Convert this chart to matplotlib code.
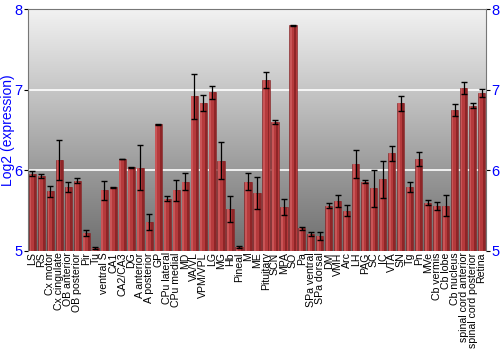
import numpy as np
import matplotlib
matplotlib.use('Agg')
import matplotlib.pyplot as plt
from matplotlib.colors import LinearSegmentedColormap

plt.rcParams['font.family'] = ['Liberation Sans', 'DejaVu Sans']

regions = ['LS', 'RS', 'Cx motor', 'Cx cingulate', 'OB anterior', 'OB posterior', 'Pir', 'Tu',
           'ventral S', 'CA1', 'CA2/CA3', 'DG', 'A anterior', 'A posterior', 'GP', 'CPu lateral',
           'CPu medial', 'MD', 'VA/VL', 'VPM/VPL', 'LG', 'MG', 'Hb', 'Pineal', 'M', 'ME',
           'Pituitary', 'SCN', 'MPA', 'SO', 'Pa', 'SPa ventral', 'SPa dorsal', 'DM', 'VMH',
           'Arc', 'LH', 'PAG', 'SC', 'IC', 'VTA', 'SN', 'Tg', 'Pn', 'MVe', 'Cb vermis',
           'Cb lobe', 'Cb nucleus', 'spinal cord anterior', 'spinal cord posterior', 'Retina']
expr = [5.96, 5.93, 5.74, 6.13, 5.79, 5.87, 5.22, 5.04,
        5.75, 5.79, 6.14, 6.04, 6.03, 5.36, 6.57, 5.65,
        5.75, 5.86, 6.92, 6.83, 6.97, 6.12, 5.52, 5.05, 5.86, 5.72,
        7.12, 6.60, 5.55, 7.80, 5.28, 5.21, 5.19, 5.56, 5.62,
        5.50, 6.08, 5.86, 5.78, 5.89, 6.21, 6.83, 5.79, 6.14, 5.60, 5.56,
        5.56, 6.75, 7.02, 6.80, 6.96]
err = [0.03, 0.03, 0.07, 0.25, 0.06, 0.03, 0.04, 0.01,
       0.12, 0.005, 0.005, 0.005, 0.28, 0.10, 0.005, 0.03,
       0.13, 0.11, 0.28, 0.10, 0.08, 0.23, 0.16, 0.01, 0.11, 0.20,
       0.10, 0.03, 0.10, 0.005, 0.02, 0.03, 0.05, 0.03, 0.08,
       0.07, 0.17, 0.02, 0.23, 0.23, 0.09, 0.09, 0.06, 0.09, 0.03, 0.05,
       0.13, 0.07, 0.07, 0.03, 0.05]

fig = plt.figure(figsize=(5, 3.5), dpi=100)
ax = fig.add_axes([0.056, 0.283, 0.916, 0.691])

x = np.arange(len(regions))
ymin, ymax = 5, 8

# grey gradient background
bg = LinearSegmentedColormap.from_list('bg', ['#6e6e6e', '#f2f2f2'])
ax.imshow(np.linspace(0, 1, 256).reshape(-1, 1), cmap=bg, origin='lower', aspect='auto',
          extent=(-0.5, len(regions) - 0.5, ymin, ymax), zorder=0)

for g in [6, 7]:
    ax.axhline(g, color='white', lw=1.2, zorder=1)

heights = np.array(expr) - ymin
ax.bar(x, heights, bottom=ymin, width=0.8, color='#b53a3c', edgecolor='#7a1d1f', lw=0.4, zorder=2)
# shading on bars
ax.bar(x - 0.22, heights, bottom=ymin, width=0.2, color='#c95557', lw=0, zorder=3)
ax.bar(x + 0.28, heights, bottom=ymin, width=0.22, color='#8e2527', lw=0, zorder=3)
ax.errorbar(x, expr, yerr=err, fmt='none', ecolor='black', elinewidth=0.9,
            capsize=2, capthick=1, zorder=4)

ax.set_xlim(-0.5, len(regions) - 0.5)
ax.set_ylim(ymin, ymax)
ax.set_yticks([5, 6, 7, 8])
ax.tick_params(axis='y', colors='black', labelcolor='blue', labelsize=10.5, length=3,
               left=True, right=True, labelleft=True, labelright=True, pad=0.8)
ax.set_xticks(x)
ax.set_xticklabels(regions, rotation=90, fontsize=7.6)
ax.tick_params(axis='x', length=0, pad=1)
ax.set_ylabel('Log2 (expression)', color='blue', fontsize=10)
ax.yaxis.set_label_coords(-0.029, 0.5)
for s in ax.spines.values():
    s.set_color('#777777')
ax.spines['bottom'].set_visible(False)

fig.savefig('out.png', dpi=100)
